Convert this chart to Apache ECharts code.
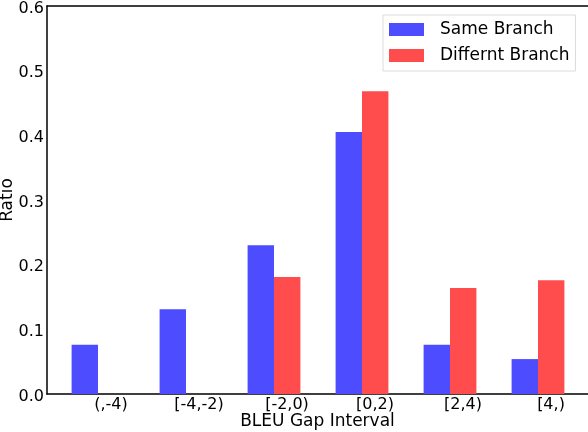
<!DOCTYPE html>
<html>
<head>
<meta charset="utf-8">
<script src="https://cdn.jsdelivr.net/npm/echarts@6/dist/echarts.min.js"></script>
<style>
  html, body { margin: 0; padding: 0; background: #fff; }
  #chart { width: 588px; height: 432px; }
</style>
</head>
<body>
<div id="chart"></div>
<script>
const categories = ['(,-4)', '[-4,-2)', '[-2,0)', '[0,2)', '[2,4)', '[4,)'];
const sameBranch = [0.076, 0.131, 0.230, 0.405, 0.076, 0.054];
const diffBranch = [0, 0, 0.181, 0.468, 0.164, 0.176];

const font = 'DejaVu Sans';
let myChart = echarts.init(document.getElementById('chart'), null, { renderer: 'canvas' });

let option = {
  animation: false,
  textStyle: { fontFamily: font },
  legend: {
    orient: 'vertical',
    left: 383,
    top: 15,
    padding: [6, 6, 7, 6],
    borderColor: '#dcdcdc',
    borderWidth: 1,
    itemWidth: 35,
    itemHeight: 13,
    itemGap: 9,
    icon: 'rect',
    textStyle: { fontFamily: font, fontSize: 17, lineHeight: 17, color: '#000', padding: [0, 0, 0, 11] },
    data: ['Same Branch', 'Differnt Branch']
  },
  grid: [
    // frame grid (spines + y axis)
    { left: 47, width: 541, top: 6, height: 388, containLabel: false, outerBoundsMode: 'none' },
    // bar grid
    { left: 54, width: 528, top: 6, height: 388, containLabel: false, outerBoundsMode: 'none' }
  ],
  xAxis: [
    {
      gridIndex: 0, type: 'value', min: 0, max: 1, position: 'bottom',
      axisLine: { show: true, lineStyle: { color: '#000', width: 1.5 } },
      axisTick: { show: false }, axisLabel: { show: false }, splitLine: { show: false },
      name: 'BLEU Gap Interval', nameLocation: 'middle', nameGap: 19, nameMoveOverlap: false,
      nameTextStyle: { fontFamily: font, fontSize: 17, color: '#000' }
    },
    {
      gridIndex: 0, type: 'value', min: 0, max: 1, position: 'top',
      axisLine: { show: true, lineStyle: { color: '#000', width: 1.5 } },
      axisTick: { show: false }, axisLabel: { show: false }, splitLine: { show: false }
    },
    {
      gridIndex: 1, type: 'category', data: categories, position: 'bottom',
      axisLine: { show: false }, axisTick: { show: false },
      axisLabel: { fontFamily: font, fontSize: 16, color: '#000', margin: 3, padding: [0, 0, 0, 26] }
    }
  ],
  yAxis: [
    {
      gridIndex: 0, type: 'value', min: 0, max: 0.6, interval: 0.1,
      axisLine: { show: true, lineStyle: { color: '#000', width: 1.5 } },
      axisTick: { show: false }, splitLine: { show: false },
      axisLabel: {
        margin: 3,
        formatter: function(v) { return '{t|' + v.toFixed(1) + '}'; },
        rich: {
          t: { fontFamily: font, fontSize: 16, color: '#000', padding: [5, 0, 0, 0] }
        }
      },
      name: 'Ratio', nameLocation: 'middle', nameGap: 31, nameMoveOverlap: false,
      nameTextStyle: { fontFamily: font, fontSize: 17, color: '#000' }
    },
    {
      gridIndex: 1, type: 'value', min: 0, max: 0.6, interval: 0.1, show: false
    }
  ],
  series: [
    {
      name: 'Same Branch', type: 'bar', xAxisIndex: 2, yAxisIndex: 1,
      barGap: 0, barCategoryGap: '40%',
      itemStyle: { color: '#4d4dff' },
      data: sameBranch
    },
    {
      name: 'Differnt Branch', type: 'bar', xAxisIndex: 2, yAxisIndex: 1,
      barGap: 0, barCategoryGap: '40%',
      itemStyle: { color: '#ff4d4d' },
      data: diffBranch
    }
  ]
};

myChart.setOption(option);
</script>
</body>
</html>
